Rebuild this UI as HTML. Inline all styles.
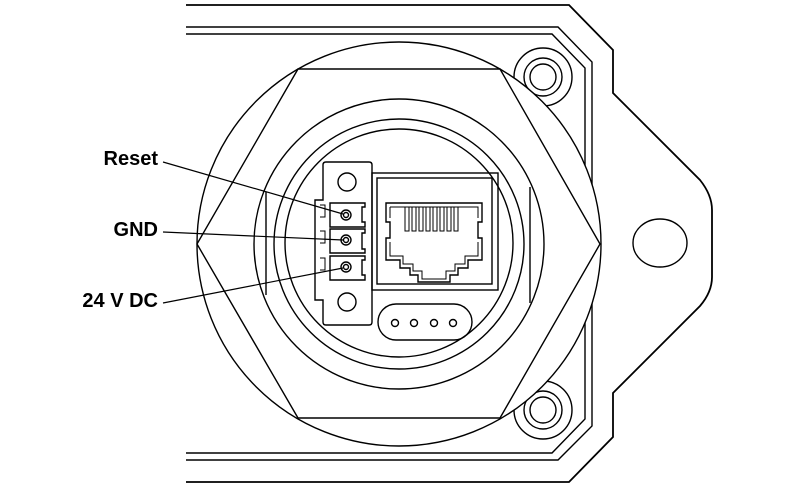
<!DOCTYPE html>
<html><head><meta charset="utf-8"><style>
html,body{margin:0;padding:0;background:#fff}
svg{display:block}
text{font-family:"Liberation Sans",sans-serif;font-weight:bold;font-size:20px;fill:#000}
</style></head><body>
<svg width="797" height="491" viewBox="0 0 797 491" xmlns="http://www.w3.org/2000/svg">
<g fill="none" stroke="#000" stroke-width="1.4">
<path d="M186,5 H569 L613,50 V93 L700,180 Q712,195 712,210 V277 Q712,292 700,306 L613,393 V437 L569,482 H186" stroke-width="1.8"/>
<path d="M186,27 H558 L592,62 V426 L558,460 H186"/>
<path d="M186,34 H552 L585,68 V419 L552,453 H186"/>
<ellipse cx="660" cy="243" rx="27" ry="24"/>
<circle cx="543" cy="77" r="29"/><circle cx="543" cy="77" r="19"/><circle cx="543" cy="77" r="13"/>
<circle cx="543" cy="410" r="29"/><circle cx="543" cy="410" r="19"/><circle cx="543" cy="410" r="13"/>
<circle cx="399" cy="244" r="202" fill="#fff"/>
<path d="M298,69 H500 L600,244 L500,418 H298 L197,244 Z"/>
<circle cx="399" cy="244" r="145"/>
<circle cx="399" cy="244" r="125"/>
<circle cx="399" cy="243" r="114"/>
<line x1="266" y1="192" x2="266" y2="295"/>
<line x1="530" y1="187" x2="530" y2="303"/>
<path d="M323,165 Q323,162 326,162 H369 Q372,162 372,165 V322 Q372,325 369,325 H326 Q323,325 323,322 V300 H315 V200 H323 Z"/>
<circle cx="347" cy="182" r="9"/><circle cx="347" cy="302" r="9"/>
<path d="M330,203 H365 V207 H362 V222 H365 V227 H330 Z"/>
<path d="M330,229 H365 V233 H362 V249 H365 V253 H330 Z"/>
<path d="M330,256 H365 V260 H362 V275 H365 V280 H330 Z"/>
<path d="M320,205 h5 v12 h-5 M320,231 h5 v12 h-5 M320,258 h5 v12 h-5" stroke-width="1"/>
<circle cx="346" cy="215" r="5"/><circle cx="346" cy="215" r="2.5"/>
<circle cx="346" cy="240" r="5"/><circle cx="346" cy="240" r="2.5"/>
<circle cx="346" cy="267" r="5"/><circle cx="346" cy="267" r="2.5"/>
<rect x="372" y="173" width="126" height="117"/>
<rect x="377" y="178" width="115" height="106"/>
<path d="M386,203 H482 V222 H478 V238 H482 V260 H468 V268 H458 V275 H450 V282 H418 V275 H410 V268 H400 V260 H386 V238 H390 V222 H386 Z"/>
<path d="M390,207 H478 V218 M390,207 V218 M390,242 V256 H403 V264 H413 V271 H422 V279 H446 V271 H455 V264 H465 V256 H478 V242" stroke-width="1"/>
<path d="M405,207 v24 h4 v-24 M412,207 v24 h4 v-24 M419,207 v24 h4 v-24 M426,207 v24 h4 v-24 M433,207 v24 h4 v-24 M440,207 v24 h4 v-24 M447,207 v24 h4 v-24 M454,207 v24 h4 v-24" stroke-width="1"/>
<rect x="378" y="304" width="94" height="36" rx="18"/>
<circle cx="395" cy="323" r="3.5"/><circle cx="414" cy="323" r="3.5"/><circle cx="434" cy="323" r="3.5"/><circle cx="453" cy="323" r="3.5"/>
<line x1="163" y1="162" x2="343" y2="214" stroke-width="1.2"/>
<line x1="163" y1="232" x2="343" y2="240" stroke-width="1.2"/>
<line x1="163" y1="303" x2="343" y2="268" stroke-width="1.2"/>
</g>
<text x="158" y="165" text-anchor="end">Reset</text>
<text x="158" y="236" text-anchor="end">GND</text>
<text x="158" y="307" text-anchor="end">24 V DC</text>
</svg>
</body></html>
